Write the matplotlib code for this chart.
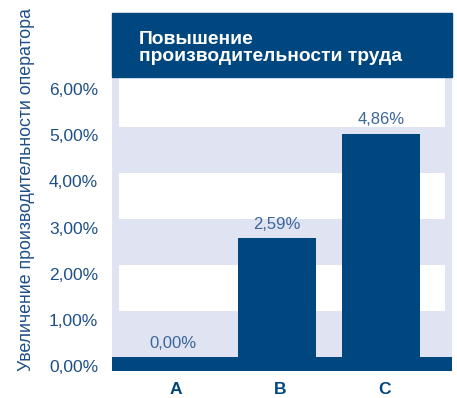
import numpy as np
import matplotlib.pyplot as plt
import matplotlib.transforms as mtransforms
from matplotlib.patches import Rectangle

plt.rcParams['font.family'] = ['Liberation Sans', 'DejaVu Sans']

# Data
categories = ['A', 'B', 'C']
values = [0.00, 2.59, 4.86]
yticks = [0, 1, 2, 3, 4, 5, 6]
title = 'Повышение\nпроизводительности труда'
ylabel = 'Увеличение производительности оператора'

navy = '#00467f'
lavender = '#e0e3f1'
text_blue = '#1d4f87'
label_blue = '#3b6699'

fig = plt.figure(figsize=(4.57, 3.98), dpi=100)
ax = fig.add_axes([112 / 457, 27 / 398, 340 / 457, 294 / 398])
ax.set_facecolor(lavender)

ymin, ymax = -0.30, 6.09
ax.set_xlim(-0.615, 2.65)
ax.set_ylim(ymin, ymax)

# white bands between the lavender ones
for lo, hi in [(1, 2), (3, 4), (5, ymax)]:
    ax.axhspan(lo, hi, xmin=7 / 340, xmax=333 / 340, color='white', lw=0, zorder=0)

# dark baseline strip
ax.axhspan(ymin, 0, color=navy, lw=0, zorder=2)

x = np.arange(len(categories))
ax.bar(x - 0.03, values, width=0.75, color=navy, zorder=3)

for xi, v in zip(x - 0.03, values):
    ax.annotate(f'{v:.2f}%'.replace('.', ','), (xi, v), xytext=(0, 10),
                textcoords='offset points', ha='center', va='center',
                fontsize=12, color=label_blue, zorder=4)

for s in ax.spines.values():
    s.set_visible(False)

ax.set_yticks(yticks)
ax.set_yticklabels([f'{t},00%' for t in yticks], fontsize=12.5, color=text_blue)
ax.tick_params(axis='y', length=0, pad=10)
shift = mtransforms.ScaledTranslation(0, -6 / 72, fig.dpi_scale_trans)
for lbl in ax.get_yticklabels():
    lbl.set_transform(lbl.get_transform() + shift)

ax.set_xticks(x)
ax.set_xticklabels(categories, fontsize=12.5, fontweight='bold', color=navy)
ax.tick_params(axis='x', length=0, pad=8)

# title banner above the plot
fig.patches.append(Rectangle((112 / 457, 321 / 398), 340 / 457, 64 / 398,
                             transform=fig.transFigure, color=navy, zorder=1))
fig.text(139 / 457, 350 / 398, title, color='white', fontsize=13.9,
         fontweight='bold', ha='left', va='center', linespacing=1.0)

fig.text(27 / 457, 208 / 398, ylabel, rotation=90, ha='center', va='center',
         fontsize=12.8, color=text_blue)

fig.savefig('out.png', dpi=100)
